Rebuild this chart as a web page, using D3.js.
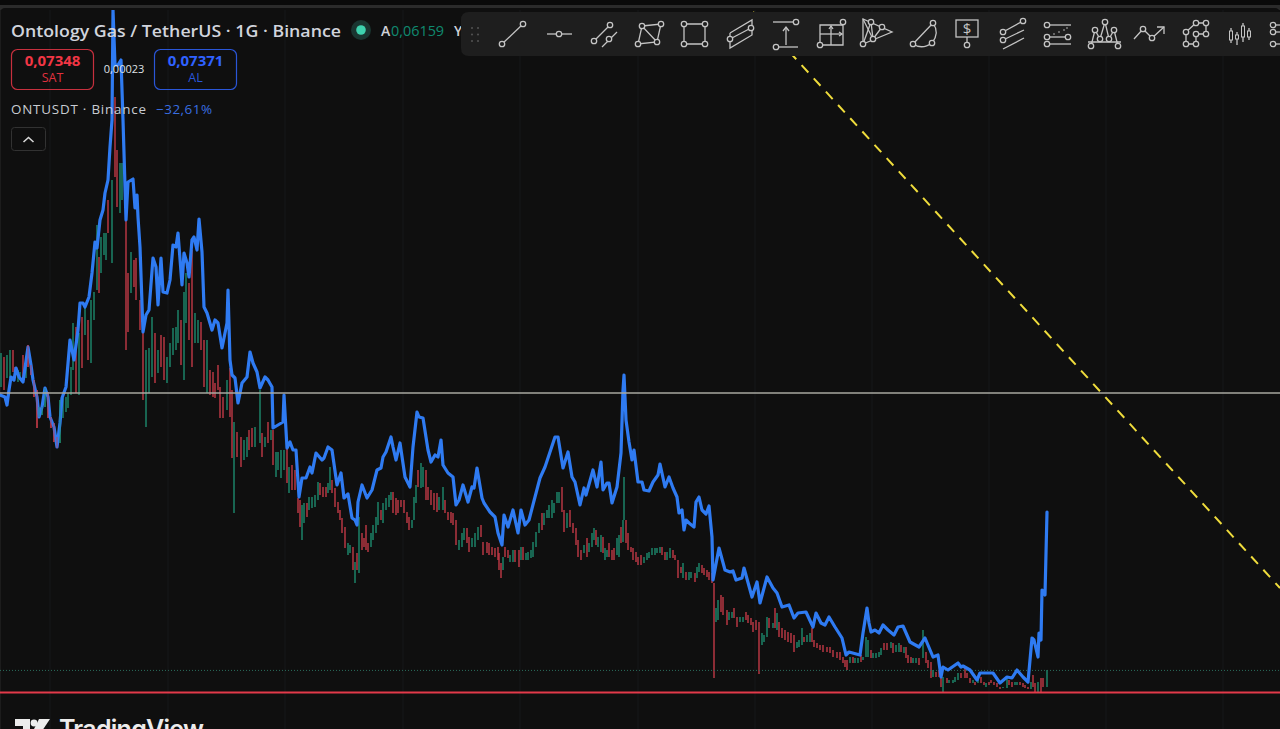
<!DOCTYPE html>
<html><head><meta charset="utf-8">
<style>html,body{margin:0;padding:0;background:#0f0f0f;overflow:hidden}svg{display:block}text{font-family:"Open Sans","Noto Sans",sans-serif}</style>
<script src="https://cdn.jsdelivr.net/npm/d3@7/dist/d3.min.js"></script></head>
<body><svg id="c" width="1280" height="729"></svg>
<script>
// Prices are in thousandths of a USDT, time is in chart timeline units.
const lineT=[0,5,7,9,11,14,16,19,23,25,
28,31,33,37,39,42,45,48,50,54,
57,60,62,66,70,74,78,80,83,85,
89,92,95,97,100,103,105,108,110,112,
113,115,118,121,123,124,126,128,133,135,
137,138,140,143,146,149,153,156,158,161,
163,167,170,173,176,178,182,184,187,189,
192,194,197,199,202,204,207,212,215,218,
222,227,228,230,232,235,238,242,247,250,
253,257,260,265,268,272,273,278,283,284,
287,290,293,296,299,302,306,310,312,316,
322,324,328,332,337,341,344,348,352,355,
357,358,362,367,372,377,381,383,386,391,
393,396,400,405,410,413,417,419,423,428,
431,435,438,441,443,448,453,456,459,463,
468,472,474,477,482,484,490,495,498,502,
504,508,513,518,521,525,529,535,540,545,
548,555,558,563,568,572,575,580,584,586,
593,597,601,603,607,609,612,617,621,623,
624,626,629,632,634,638,642,644,649,653,
658,660,665,669,673,677,679,682,684,686,
689,694,696,699,702,706,709,712,713,719,
725,730,733,736,742,744,752,757,760,767,
773,777,782,789,794,798,806,813,816,821,
825,829,835,842,846,849,860,863,867,869,
871,875,879,883,888,894,898,903,910,919,
925,933,938,941,943,948,958,961,963,970,
977,980,988,993,1000,1007,1012,1017,1023,1028,
1032,1034,1038,1039,1041,1042,1045,1047];
const lineV=[337,335,327,342,355,352,364,355,350,364,
385,367,352,335,315,325,344,335,315,305,
285,309,334,345,392,372,402,429,429,425,
435,459,490,484,512,522,539,552,585,612,
722,667,667,672,612,579,512,550,553,524,
537,515,485,400,417,422,474,465,427,474,
440,439,452,487,485,499,447,479,469,455,
492,495,482,513,480,425,419,402,412,409,
384,409,442,372,357,354,329,349,355,380,
369,360,344,355,352,345,304,307,310,337,
284,290,282,282,235,254,254,265,259,279,
272,274,285,282,247,259,234,238,214,212,
207,230,247,234,242,262,264,275,280,295,
285,272,289,255,245,285,320,315,314,282,
270,277,275,292,267,259,255,227,232,247,
230,245,244,264,234,229,220,215,199,187,
217,205,222,199,222,207,212,235,254,265,
274,295,295,264,280,255,250,227,244,237,
262,245,270,242,249,249,229,245,279,342,
357,312,290,272,282,250,250,242,241,250,
257,268,245,255,244,235,219,222,202,212,
209,205,230,235,222,218,226,195,152,184,
162,160,161,152,154,164,135,150,129,155,
144,139,125,127,114,119,120,105,119,109,
107,115,105,94,77,80,77,99,124,109,
100,102,99,107,102,97,105,106,90,85,
94,75,77,55,65,62,69,65,66,62,
52,59,59,59,49,55,54,62,55,50,
94,92,75,99,92,142,137,220];

const barT=[1,4,7,10,13,15,18,20,23,26,
28,31,34,37,39,42,45,48,51,54,
57,60,63,66,68,71,73,76,79,82,
85,88,91,94,97,99,101,104,106,108,
112,115,117,120,122,126,128,131,134,136,
140,143,146,149,152,155,158,161,164,167,
170,173,176,178,181,184,186,189,192,195,
198,201,204,207,210,213,215,218,220,223,
227,230,232,234,237,241,244,247,249,252,
255,260,262,265,268,271,273,276,278,281,
284,287,289,292,295,298,300,302,304,307,
309,312,315,318,320,323,326,328,330,332,
335,338,340,342,345,348,350,353,355,357,
359,362,364,366,368,371,373,376,378,381,
383,386,389,391,393,396,398,401,404,407,
409,412,414,416,418,421,423,426,428,431,
434,437,439,443,445,448,451,453,456,459,
462,464,467,469,472,475,478,481,483,487,
489,492,495,498,499,501,503,505,508,510,
513,515,519,521,523,526,528,531,533,536,
539,542,544,547,549,552,554,557,559,562,
564,567,570,573,576,578,581,584,587,589,
592,594,596,598,601,603,605,607,609,612,
614,617,619,621,623,624,626,628,631,633,
636,638,641,644,647,649,652,655,657,660,
662,665,667,670,673,675,678,681,683,686,
689,691,695,697,699,702,704,707,709,712,
714,716,718,721,723,727,729,732,734,737,
740,743,746,748,751,753,756,759,762,764,
767,769,773,775,777,779,782,785,788,791,
794,797,799,802,804,807,810,812,814,817,
820,823,827,830,833,837,840,843,845,847,
850,853,855,858,861,863,866,868,871,873,
876,879,881,884,887,891,893,896,899,901,
904,906,908,911,913,916,919,923,926,928,
931,933,936,939,941,943,947,949,953,955,
958,961,965,967,970,973,975,978,981,984,
986,989,991,994,997,1000,1003,1007,1009,1012,
1015,1017,1020,1023,1025,1028,1031,1033,1035,1038,
1041,1043,1047];
const barHigh=[379,375,377,382,382,365,362,360,377,367,
387,367,352,342,325,325,344,340,315,309,
295,332,334,335,339,365,409,405,399,415,
425,412,432,440,507,475,495,499,499,532,
552,635,582,569,569,512,459,480,472,474,
432,400,382,384,415,399,382,397,395,375,
389,404,405,422,412,440,459,449,482,419,
412,410,392,392,362,360,349,367,345,335,
352,364,342,310,300,295,292,295,302,304,
305,342,299,295,310,302,302,280,280,282,
282,292,265,267,262,234,232,227,229,229,
235,235,237,250,249,245,245,249,265,252,
244,230,222,214,205,189,187,185,170,179,
215,199,194,207,189,199,207,215,230,222,
229,234,237,240,240,234,232,232,232,220,
215,212,235,247,262,269,265,262,245,242,
239,239,235,245,232,220,220,219,212,192,
199,204,204,195,194,199,205,207,190,190,
189,185,184,185,179,169,175,185,182,177,
182,182,182,185,185,179,180,182,190,200,
209,219,219,222,227,232,229,240,240,245,
222,219,222,209,204,192,182,187,194,189,
199,204,202,195,197,195,184,182,189,182,
184,194,197,205,212,255,212,199,185,184,
180,175,177,175,179,180,184,184,184,185,
185,180,180,184,182,177,172,165,169,160,
160,160,159,165,169,167,164,162,160,159,
149,124,132,137,135,122,120,120,124,115,
115,115,120,117,114,110,112,110,99,97,
115,114,109,124,119,110,104,102,100,99,
97,90,92,104,95,97,99,104,92,89,
87,87,85,85,82,80,80,75,72,72,
75,75,74,74,77,75,95,92,82,79,
79,80,84,89,89,90,89,87,89,87,
85,85,77,75,74,74,74,102,80,72,
70,62,60,62,57,55,54,52,52,55,
59,59,64,59,54,52,50,54,55,50,
49,50,52,50,49,45,45,55,52,50,
50,50,50,49,47,45,50,57,49,50,
54,54,62];
const barLow=[345,342,354,354,360,357,350,352,350,354,
365,357,335,304,315,317,325,314,304,290,
284,289,314,320,324,337,362,339,337,364,
397,372,369,412,442,439,459,477,472,499,
469,555,525,519,532,382,400,439,445,432,
402,332,305,339,355,349,359,365,352,349,
365,377,382,389,367,352,409,392,365,389,
389,382,345,339,337,335,334,342,314,314,
322,315,274,219,275,265,272,275,282,285,
285,289,275,285,289,292,267,255,262,254,
262,249,239,242,242,219,205,192,209,215,
222,224,225,232,237,235,235,239,242,239,
225,219,212,199,184,177,179,162,149,162,
159,182,185,182,180,185,192,199,207,212,
209,222,225,232,219,217,219,225,219,209,
202,204,212,229,245,244,245,232,232,227,
222,220,222,222,219,212,209,207,187,182,
185,192,189,180,185,185,192,195,177,179,
177,177,175,172,162,154,162,175,174,170,
170,170,165,172,172,172,172,174,175,185,
199,202,207,214,214,214,219,229,229,220,
200,204,205,199,187,175,172,179,175,180,
185,192,187,185,180,179,172,175,175,172,
172,177,175,189,190,212,189,182,180,172,
170,167,167,169,172,174,177,177,179,179,
177,172,172,174,174,172,154,159,154,152,
152,154,150,154,160,159,157,155,152,149,
54,110,112,120,117,107,112,114,114,105,
110,110,112,109,107,100,102,58,87,90,
95,104,104,104,102,95,94,92,90,89,
80,84,85,87,90,90,90,90,85,84,
82,80,80,79,75,74,72,69,65,62,
69,69,69,69,70,72,75,75,74,74,
74,75,77,82,82,84,79,80,80,80,
79,74,69,69,69,69,67,74,69,64,
54,55,55,55,45,40,49,49,49,50,
52,54,54,54,49,49,47,49,49,47,
45,47,49,47,45,43,44,44,47,45,
47,47,47,45,44,43,43,45,39,39,
39,45,45];
const barDir=["uduudduudu","dddduuuddd","duuuuuudud","uduuuduuud","udduuddudd",
"dduuududdu","uuuuduuddu","uddudddddd","uddudduudd","uudududuuu",
"ududdddu"+"ud","uuuuddduud","ddddduudud","udddduuuud","uuuudddddd",
"duuuduuddd","dduudddddu","uudduuuddd","dddddduddu","udduduuuuu",
"uduuuuuuud","dudddddudu","uuduuduudd","duuduudddd","ddduuuuuuu",
"dduuddddud","uuduuddddd","duuddduudd","uudddddduu","udududdddd",
"duuuduuddd","dddddddddd","uduuduuudu","uuudduduud","uddduududd",
"duddduduuu","uddddududd","uddddduudd","uuddddu"+"ddu","ddu"].join("");

const gridT=[50,168,285,403,520,638,755,872,989,1106,1223];
const trendT=[753,1280], trendV=[720,144];
const levelResistance=339, levelSupport=39.5, levelLast=61.59;
const overlapT=[28,62];
const tickLabels={title:"Ontology Gas / TetherUS · 1G · Binance",open:"0,06159",sell:"0,07348",buy:"0,07371",spread:"0,00023",compare:"ONTUSDT · Binance",change:"−32,61%"};

if(barT.length!==barHigh.length||barT.length!==barLow.length||barT.length!==barDir.length||lineT.length!==lineV.length)
  throw new Error(`len ${barT.length} ${barHigh.length} ${barLow.length} ${barDir.length} ${lineT.length} ${lineV.length}`);

const W=1280,H=729;
const x=d3.scaleLinear().domain([0,1280]).range([0,W]);
const y=d3.scaleLinear().domain([732,3]).range([0,H]);
const svg=d3.select("#c");
const bg="#0f0f0f";
svg.append("rect").attr("width",W).attr("height",H).attr("fill",bg);
svg.append("rect").attr("width",W).attr("height",5).attr("fill","#0a0a0a");
svg.append("rect").attr("y",5).attr("width",W).attr("height",5).attr("fill","#2b2b2b");
svg.append("rect").attr("y",8).attr("width",W).attr("height",H).attr("rx",5).attr("fill",bg);
svg.append("rect").attr("y",10).attr("width",1).attr("height",H).attr("fill","#1c1c1c");
const defs=svg.append("defs");
defs.append("clipPath").attr("id","plot").append("rect").attr("x",0).attr("y",10).attr("width",W).attr("height",H);
const plot=svg.append("g").attr("clip-path","url(#plot)");

plot.selectAll(".grid").data(gridT).join("line").attr("class","grid")
 .attr("x1",d=>x(d)).attr("x2",d=>x(d)).attr("y1",10).attr("y2",H).attr("stroke","#16181b").attr("stroke-width",1);

const idx=d3.range(barT.length);
const colr={u:"#1f9274",d:"#cc3d4b"};
const drawBars=(ids,cls,op)=>plot.selectAll("."+cls).data(ids).join("line").attr("class",cls)
 .attr("x1",i=>x(barT[i])).attr("x2",i=>x(barT[i]))
 .attr("y1",i=>y(barHigh[i])).attr("y2",i=>y(barLow[i]))
 .attr("stroke",i=>colr[barDir[i]]).attr("stroke-width",1.4).attr("opacity",op);
drawBars(idx,"bar",.95);

plot.append("line").attr("x1",0).attr("x2",W).attr("y1",y(levelLast)).attr("y2",y(levelLast))
 .attr("stroke","#2a6d5d").attr("stroke-width",1).attr("stroke-dasharray","1 2");

const lineGen=d3.line().x(i=>x(lineT[i])).y(i=>y(lineV[i])).curve(d3.curveLinear);
plot.append("path").attr("d",lineGen(d3.range(lineT.length))).attr("fill","none")
 .attr("stroke","#2f7bf2").attr("stroke-width",3.2).attr("stroke-linejoin","round").attr("stroke-linecap","round");
drawBars(idx.filter(i=>barT[i]>=overlapT[0]&&barT[i]<=overlapT[1]),"barOver",.55);

plot.append("line").attr("x1",0).attr("x2",W).attr("y1",y(levelResistance)).attr("y2",y(levelResistance))
 .attr("stroke","#a9a9a1").attr("stroke-width",1.4);
plot.append("line").attr("x1",0).attr("x2",W).attr("y1",y(levelSupport)).attr("y2",y(levelSupport))
 .attr("stroke","#e33a4a").attr("stroke-width",2);
plot.append("line").attr("x1",x(trendT[0])).attr("y1",y(trendV[0])).attr("x2",x(trendT[1])).attr("y2",y(trendV[1]))
 .attr("stroke","#efdc3c").attr("stroke-width",2).attr("stroke-dasharray","10 8");

const txt=(t,px,py,size,fill,weight,anchor)=>svg.append("text").attr("x",px).attr("y",py).attr("font-size",size).attr("fill",fill).attr("font-weight",weight||400).attr("text-anchor",anchor||"start").text(t);
txt(tickLabels.title,11,37,17,"#d1d4dc",600).attr("textLength",330).attr("lengthAdjust","spacingAndGlyphs");
svg.append("circle").attr("cx",361).attr("cy",30).attr("r",10).attr("fill","#1a3631");
svg.append("circle").attr("cx",361).attr("cy",30).attr("r",4.8).attr("fill","#3ed2ae");
txt("A",381,36,14,"#cfd2d8",600);
txt(tickLabels.open,391,36,14.4,"#0f8a70",500);
txt("Y",454,36,14,"#cfd2d8",600);

const box=(bx,col)=>svg.append("rect").attr("x",bx).attr("y",49.5).attr("width",82).attr("height",40).attr("rx",6).attr("fill","none").attr("stroke",col).attr("stroke-width",1.2);
box(11.5,"#c7303e"); box(154.5,"#2a56d8");
txt(tickLabels.sell,52.5,66,15,"#f23645",700,"middle");
txt("SAT",52.5,82,12.5,"#e0313f",500,"middle");
txt(tickLabels.spread,124,73,11,"#dfe1e6",500,"middle");
txt(tickLabels.buy,195.5,66,15,"#2f62ff",700,"middle");
txt("AL",195.5,82,12.5,"#2a56d8",500,"middle");
txt(tickLabels.compare,11,114,13.4,"#c9ccd2",500).attr("textLength",135);
txt(tickLabels.change,156,114,13.4,"#3a6ee0",500).attr("textLength",56);
svg.append("rect").attr("x",11.5).attr("y",127.5).attr("width",34).attr("height",23).attr("rx",3).attr("fill",bg).attr("stroke","#323232");
svg.append("path").attr("d","M23.5 142 L28.5 137.5 L33.5 142").attr("fill","none").attr("stroke","#d8d8d8").attr("stroke-width",1.6);

const tb=svg.append("g");
tb.append("path").attr("d","M1280 12 H469 Q461 12 461 20 V48 Q461 56 469 56 H1280 Z").attr("fill","#1e1e1e");
d3.range(3).forEach(r=>[0,1].forEach(c=>tb.append("circle").attr("cx",472+c*6).attr("cy",28+r*6.5).attr("r",1.1).attr("fill","#505050")));
const S="#c4c4c4";
const L=(...p)=>tb.append("polyline").attr("points",p.map(q=>q.join(",")).join(" ")).attr("fill","none").attr("stroke",S).attr("stroke-width",1.3);
const C=(...p)=>p.forEach(q=>tb.append("circle").attr("cx",q[0]).attr("cy",q[1]).attr("r",2.7).attr("fill","#1e1e1e").attr("stroke",S).attr("stroke-width",1.3));
L([502,44],[523,24]);C([502,44],[523,24]);
L([547,34],[572,34]);C([559,34]);
L([594,41],[610,25]);C([594,41],[610,25]);L([602,47],[617,32]);C([609,39]);
L([642,26],[661,24],[657,42],[638,44],[642,26],[657,42]);C([642,26],[661,24],[657,42],[638,44]);
L([684,24],[705,24],[705,44],[684,44],[684,24]);C([684,24],[705,24],[705,44],[684,44]);
L([730,33],[752,20],[752,35],[730,48],[730,33]);L([730,39],[751,28]);C([730,39],[751,28]);
L([773,22],[793,22]);C([796,22]);L([779,47],[798,47]);C([776,47]);L([786,45],[786,27]);L([783,31],[786,27],[789,31]);
L([843,25],[820,25],[820,45],[843,45],[843,25]);L([831,45],[831,26]);L([820,34],[842,34]);L([829,29],[831,26],[833,29]);L([839,32],[842,34],[839,36]);C([843,22],[820,45]);
L([863,44],[863,19],[892,32],[863,44]);L([863,19],[873,39]);L([871,22],[873,39],[882,27]);L([863,44],[871,22]);C([863,44],[871,22],[873,39],[882,27]);
L([913,44],[933,23]);tb.append("path").attr("d","M913 44 Q922 50 932 43 Q940 33 933 23").attr("fill","none").attr("stroke",S).attr("stroke-width",1.3);C([913,44],[933,23],[932,43]);
tb.append("rect").attr("x",956).attr("y",20).attr("width",22).attr("height",17).attr("fill","none").attr("stroke",S).attr("stroke-width",1.3);
tb.append("text").attr("x",967).attr("y",34).attr("text-anchor","middle").attr("font-size",15).attr("fill",S).text("$");
L([967,37],[967,43]);C([967,45]);
L([1003,32],[1023,21]);C([1003,32],[1023,21]);L([1003,40],[1024,30]);C([1003,40]);L([1003,49],[1024,38]);
L([1047,25],[1071,25]);L([1047,37],[1068,37]);L([1047,44],[1071,44]);C([1047,25],[1047,37],[1068,37],[1047,44]);
[[1054,34],[1059,32],[1064,30],[1067,28]].forEach(q=>tb.append("circle").attr("cx",q[0]).attr("cy",q[1]).attr("r",.8).attr("fill",S));
L([1091,46],[1095,30],[1100,39],[1105,22],[1109,39],[1114,30],[1118,46]);L([1088,42],[1121,42]);C([1105,22],[1095,30],[1114,30],[1100,39],[1109,39],[1091,46],[1118,46]);
L([1134,39],[1143,29],[1152,38],[1164,27]);L([1157,27],[1164,27],[1164,34]);C([1143,29],[1152,38]);
L([1186,44],[1186,32],[1196,23],[1206,23],[1206,34],[1196,34],[1196,44],[1186,44]);C([1196,23],[1206,23],[1186,32],[1206,34],[1196,34],[1186,44],[1196,44]);
[[1231,28,43,31,40],[1237,32,45,35,39],[1243,23,42,26,37],[1249,28,40,31,37]].forEach(q=>{L([q[0],q[1]],[q[0],q[2]]);tb.append("rect").attr("x",q[0]-1.5).attr("y",q[3]).attr("width",3).attr("height",q[4]-q[3]).attr("fill","#1e1e1e").attr("stroke",S);});
L([1273,25],[1280,25]);L([1273,32],[1280,32]);L([1273,44],[1280,44]);C([1273,25],[1273,32],[1273,44]);

const wm=svg.append("g").attr("fill","#ececec");
wm.append("path").attr("d","M15 719 H30 V731 H23 V726 H15 Z");
wm.append("circle").attr("cx",34).attr("cy",723).attr("r",3.4);
wm.append("path").attr("d","M39 719 H50 L42 731 H33 Z");
wm.append("text").attr("x",59).attr("y",738).attr("font-size",25).attr("font-weight",600).attr("textLength",145).style("font-family","Inter,'Open Sans',sans-serif").text("TradingView");
</script>
</body></html>
